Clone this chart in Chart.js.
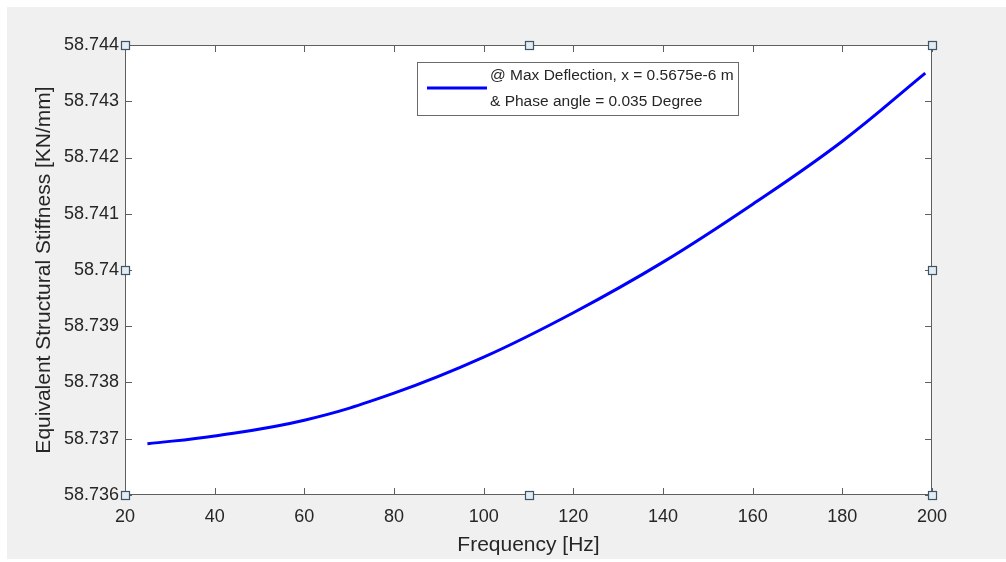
<!DOCTYPE html>
<html>
<head>
<meta charset="utf-8">
<title>Equivalent Structural Stiffness</title>
<script src="https://cdn.jsdelivr.net/npm/chart.js@4"></script>
<style>
    html, body { margin: 0; padding: 0; background: #ffffff; }
    canvas { display: block; }
</style>
</head>
<body>
<canvas id="stiffnessChart" width="1006" height="562"></canvas>
<script>
(function() {
    'use strict';

    // Frequency [Hz] and stiffness [KN/mm]
    const frequency = [25, 40, 60, 80, 100, 120, 140, 160, 180, 198.5];
    const stiffness = [58.73691, 58.73705, 58.73733, 58.73781, 58.73845,
                       58.73924, 58.74014, 58.74117, 58.74229, 58.74350];

    const legendLines = [
        '@ Max Deflection, x = 0.5675e-6 m',
        '& Phase angle = 0.035 Degree'
    ];

    const xTitle = 'Frequency [Hz]';
    const yTitle = 'Equivalent Structural Stiffness [KN/mm]';

    const fontFamily = '"Liberation Sans", Arial, Helvetica, sans-serif';
    const textColor = '#262626';
    const axisColor = '#5e5e5e';

    // Grey figure window + white axes background
    const backgroundPlugin = {
        id: 'figureBackground',
        beforeDraw(chart) {
            const ctx = chart.ctx;
            const area = chart.chartArea;
            ctx.save();
            ctx.fillStyle = '#ffffff';
            ctx.fillRect(0, 0, chart.width, chart.height);
            ctx.fillStyle = '#f0f0f0';
            ctx.fillRect(7, 7, chart.width - 7, chart.height - 10);
            ctx.fillStyle = '#ffffff';
            ctx.fillRect(area.left, area.top, area.right - area.left, area.bottom - area.top);
            ctx.restore();
        }
    };

    // Box, inward ticks on all four sides, selection handles, legend
    const axesBoxPlugin = {
        id: 'axesBox',
        afterDraw(chart) {
            const ctx = chart.ctx;
            const area = chart.chartArea;
            const xScale = chart.scales.x;
            const yScale = chart.scales.y;
            const tickLen = 7;

            ctx.save();
            ctx.strokeStyle = axisColor;
            ctx.lineWidth = 1;
            ctx.strokeRect(area.left + 0.5, area.top + 0.5,
                area.right - area.left - 1, area.bottom - area.top - 1);

            ctx.beginPath();
            xScale.ticks.forEach(t => {
                const px = Math.round(xScale.getPixelForValue(t.value)) + 0.5;
                ctx.moveTo(px, area.bottom);
                ctx.lineTo(px, area.bottom - tickLen);
                ctx.moveTo(px, area.top);
                ctx.lineTo(px, area.top + tickLen);
            });
            yScale.ticks.forEach(t => {
                const py = Math.round(yScale.getPixelForValue(t.value)) + 0.5;
                ctx.moveTo(area.left, py);
                ctx.lineTo(area.left + tickLen, py);
                ctx.moveTo(area.right, py);
                ctx.lineTo(area.right - tickLen, py);
            });
            ctx.stroke();

            // legend box
            const lx = 417, ly = 62, lw = 321, lh = 53;
            ctx.fillStyle = '#ffffff';
            ctx.fillRect(lx, ly, lw, lh);
            ctx.strokeStyle = '#6a6a6a';
            ctx.strokeRect(lx + 0.5, ly + 0.5, lw, lh);
            ctx.strokeStyle = '#0000ff';
            ctx.lineWidth = 3;
            ctx.beginPath();
            ctx.moveTo(lx + 10, ly + 26);
            ctx.lineTo(lx + 70, ly + 26);
            ctx.stroke();
            ctx.fillStyle = textColor;
            ctx.font = '15.5px ' + fontFamily;
            ctx.textBaseline = 'middle';
            ctx.textAlign = 'left';
            legendLines.forEach((line, i) => {
                ctx.fillText(line, lx + 73, ly + 14 + i * 26);
            });

            // selection handles
            const midX = (area.left + area.right) / 2;
            const midY = (area.top + area.bottom) / 2;
            const handles = [
                [area.left, area.top], [midX, area.top], [area.right, area.top],
                [area.left, midY], [area.right, midY],
                [area.left, area.bottom], [midX, area.bottom], [area.right, area.bottom]
            ];
            ctx.lineWidth = 1.2;
            handles.forEach(([hx, hy]) => {
                const s = 8;
                const x0 = Math.round(hx - s / 2) + 0.5;
                const y0 = Math.round(hy - s / 2) + 0.5;
                ctx.fillStyle = '#e4ecf2';
                ctx.fillRect(x0, y0, s, s);
                ctx.strokeStyle = '#3b5466';
                ctx.strokeRect(x0, y0, s, s);
            });
            ctx.restore();
        }
    };

    const points = frequency.map((f, i) => ({ x: f, y: stiffness[i] }));

    new Chart(document.getElementById('stiffnessChart'), {
        type: 'line',
        data: {
            datasets: [{
                label: legendLines.join(' '),
                data: points,
                borderColor: '#0000ff',
                borderWidth: 3,
                pointRadius: 0,
                fill: false,
                tension: 0.4
            }]
        },
        options: {
            responsive: false,
            animation: false,
            events: [],
            layout: {
                padding: { left: 0, right: 74, top: 45, bottom: 0 }
            },
            plugins: {
                legend: { display: false },
                tooltip: { enabled: false }
            },
            scales: {
                x: {
                    type: 'linear',
                    min: 20,
                    max: 200,
                    grid: { display: false, drawTicks: false },
                    border: { display: false },
                    ticks: {
                        stepSize: 20,
                        padding: 11,
                        color: textColor,
                        font: { family: fontFamily, size: 18 },
                        maxRotation: 0
                    },
                    title: {
                        display: true,
                        text: xTitle,
                        color: textColor,
                        font: { family: fontFamily, size: 21 },
                        padding: { top: 0, bottom: 4 }
                    },
                    afterFit(scale) { scale.height = 67; }
                },
                y: {
                    type: 'linear',
                    min: 58.736,
                    max: 58.744,
                    grid: { display: false, drawTicks: false },
                    border: { display: false },
                    ticks: {
                        stepSize: 0.001,
                        padding: 6,
                        color: textColor,
                        font: { family: fontFamily, size: 18 },
                        callback: function(value) {
                            return String(parseFloat(value.toFixed(3)));
                        }
                    },
                    title: {
                        display: true,
                        text: yTitle,
                        color: textColor,
                        font: { family: fontFamily, size: 21 },
                        padding: { top: 32, bottom: 0 }
                    },
                    afterFit(scale) { scale.width = 125; }
                }
            }
        },
        plugins: [backgroundPlugin, axesBoxPlugin]
    });
})();
</script>
</body>
</html>
